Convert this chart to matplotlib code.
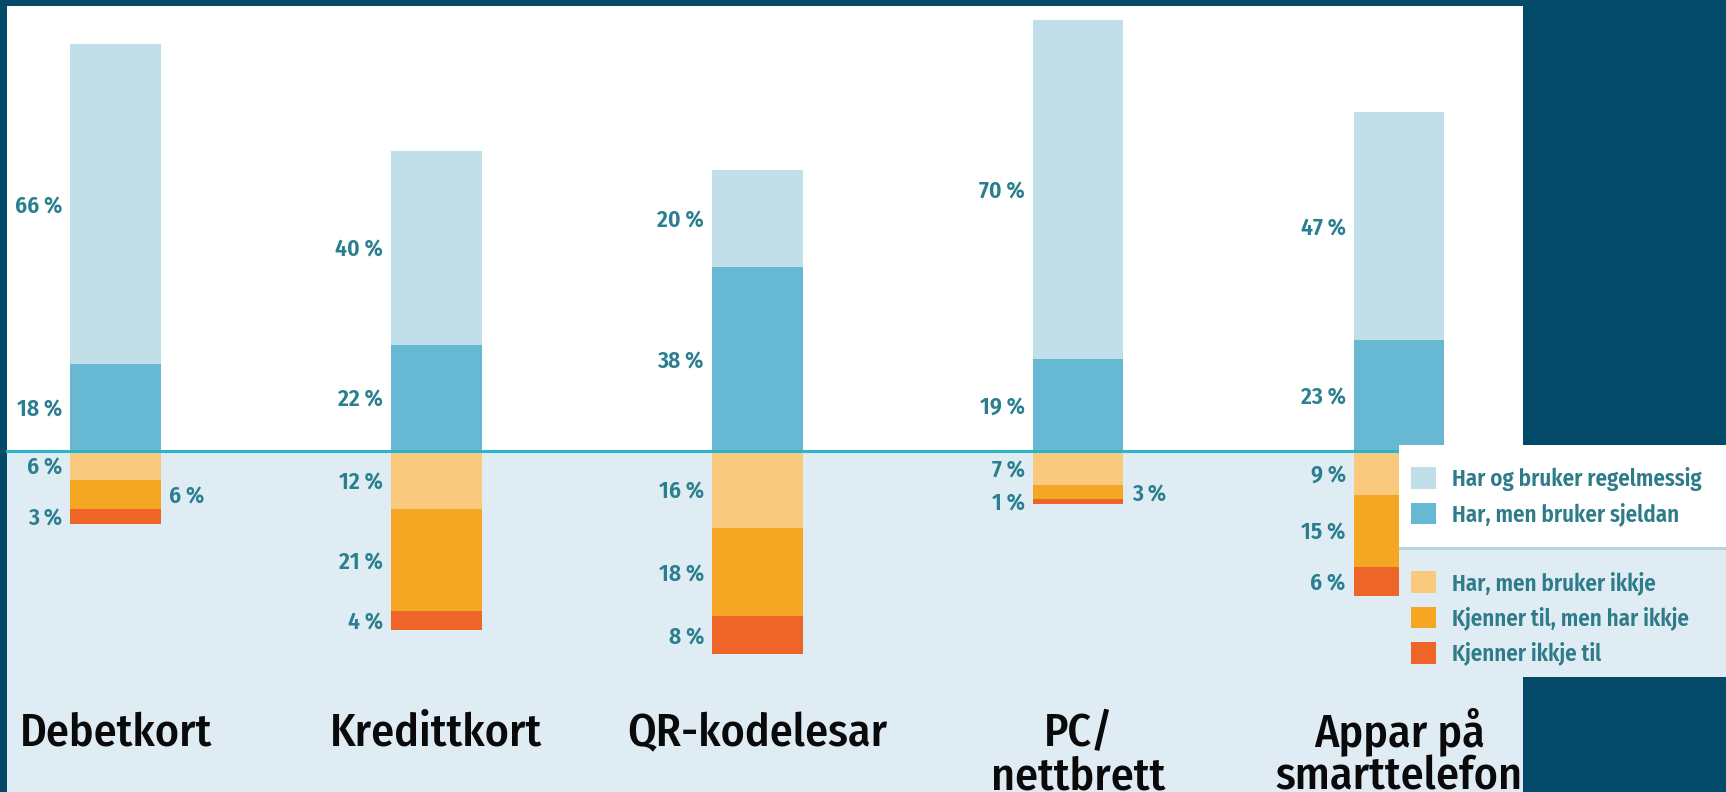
import matplotlib
matplotlib.use("Agg")
import matplotlib.pyplot as plt
from matplotlib.patches import Rectangle, Patch
from matplotlib import font_manager

# ---------------- data ----------------
categories = ["Debetkort", "Kredittkort", "QR-kodelesar", "PC/\nnettbrett", "Appar på\nsmarttelefon"]
har_regelmessig = [66, 40, 20, 70, 47]      # Har og bruker regelmessig
har_sjeldan = [18, 22, 38, 19, 23]          # Har, men bruker sjeldan
har_ikkje = [6, 12, 16, 7, 9]               # Har, men bruker ikkje
kjenner_har_ikkje = [6, 21, 18, 3, 15]      # Kjenner til, men har ikkje
kjenner_ikkje = [3, 4, 8, 1, 6]             # Kjenner ikkje til
series_names = ["Har og bruker regelmessig", "Har, men bruker sjeldan",
                "Har, men bruker ikkje", "Kjenner til, men har ikkje", "Kjenner ikkje til"]
# labels placed on the right side of the bar (category index, series index)
right_side_labels = {(0, 3), (3, 3)}

# ---------------- style ----------------
NAVY = "#034968"
LIGHT_BG = "#dfecf4"
C_REG = "#c1dfe9"
C_SJE = "#67b9d3"
C_IKK = "#f9c97d"
C_KHI = "#f5a623"
C_KI = "#ed6627"
TEAL_TXT = "#2a7f8f"
LEG_TXT = "#2e7b89"
BASE = "#2bb4cb"
colors = [C_REG, C_SJE, C_IKK, C_KHI, C_KI]

avail = {f.name for f in font_manager.fontManager.ttflist}
FONT = "DejaVu Sans"
for cand in ["Fira Sans Condensed", "PT Sans Narrow", "Roboto Condensed",
             "Open Sans Condensed", "Liberation Sans Narrow"]:
    if cand in avail:
        FONT = cand
        break
plt.rcParams["font.family"] = [FONT, "DejaVu Sans"]

W, H = 1726, 792
def fx(px): return px / W
def fy(py): return 1 - py / H

fig = plt.figure(figsize=(W / 100, H / 100), dpi=100, facecolor=NAVY)

# panel backgrounds
fig.patches.append(Rectangle((fx(7), fy(451)), fx(1523) - fx(7), fy(6) - fy(451),
                             transform=fig.transFigure, facecolor="white", edgecolor="none", zorder=-10))
fig.patches.append(Rectangle((fx(7), 0), fx(1523) - fx(7), fy(451),
                             transform=fig.transFigure, facecolor=LIGHT_BG, edgecolor="none", zorder=-10))

ax = fig.add_axes([0, 0, 1, 1])
ax.set_facecolor("none")
px_per_pct = 4.84
base_px = 451
ax.set_ylim(-(H - base_px) / px_per_pct, base_px / px_per_pct)
spacing = 320.9
c0 = 115.6
ax.set_xlim(-c0 / spacing, (W - c0) / spacing)
ax.axis("off")

x = list(range(len(categories)))
w = 90.3 / spacing

pos_series = [har_sjeldan, har_regelmessig]
pos_colors = [C_SJE, C_REG]
pos_idx = [1, 0]
neg_series = [har_ikkje, kjenner_har_ikkje, kjenner_ikkje]
neg_colors = [C_IKK, C_KHI, C_KI]
neg_idx = [2, 3, 4]

segments = []  # (cat, series index, bottom, height)
bottom = [0] * len(x)
for s, col, si in zip(pos_series, pos_colors, pos_idx):
    ax.bar(x, s, bottom=bottom, width=w, color=col, edgecolor="none", zorder=2)
    for i in x:
        segments.append((i, si, bottom[i], s[i]))
    bottom = [b + v for b, v in zip(bottom, s)]

bottom = [0] * len(x)
for s, col, si in zip(neg_series, neg_colors, neg_idx):
    negs = [-v for v in s]
    ax.bar(x, negs, bottom=bottom, width=w, color=col, edgecolor="none", zorder=2)
    for i in x:
        segments.append((i, si, bottom[i], negs[i]))
    bottom = [b + v for b, v in zip(bottom, negs)]

ax.axhline(0, xmin=fx(7), xmax=fx(1523), color=BASE, lw=2.2, zorder=3)

for i, si, b, h in segments:
    yc = b + h / 2
    val = abs(h)
    txt = f"{val}\u2009%"
    if (i, si) in right_side_labels:
        ax.annotate(txt, xy=(i + w / 2, yc), xytext=(6.0, 0), textcoords="offset points",
                    ha="left", va="center_baseline", fontsize=17, fontweight="semibold", color=TEAL_TXT)
    else:
        ax.annotate(txt, xy=(i - w / 2, yc), xytext=(-6.0, 0), textcoords="offset points",
                    ha="right", va="center_baseline", fontsize=17, fontweight="semibold", color=TEAL_TXT)

# category labels
y_line1 = (base_px - 746) / px_per_pct
line_gap = 43 / px_per_pct
for i, cat in enumerate(categories):
    for k, line in enumerate(cat.split("\n")):
        ax.text(i, y_line1 - k * line_gap, line, ha="center", va="baseline",
                fontsize=33, fontweight="medium", color="#0a0a0a")

# legend boxes
fig.patches.append(Rectangle((fx(1399), fy(547)), fx(1726) - fx(1399), fy(445) - fy(547),
                             transform=fig.transFigure, facecolor="white", edgecolor="none", zorder=5))
fig.patches.append(Rectangle((fx(1399), fy(550)), fx(1726) - fx(1399), fy(547) - fy(550),
                             transform=fig.transFigure, facecolor="#b9d3de", edgecolor="none", zorder=5))
fig.patches.append(Rectangle((fx(1399), fy(677)), fx(1726) - fx(1399), fy(550) - fy(677),
                             transform=fig.transFigure, facecolor=LIGHT_BG, edgecolor="none", zorder=5))

handles = [Patch(facecolor=c, edgecolor="none") for c in colors]
leg_fs = 16.5
leg_kw = dict(loc="upper left", frameon=False, borderpad=0, borderaxespad=0,
              handlelength=1.07, handleheight=1.07, handletextpad=0.72, labelspacing=0.5,
              prop={"family": [FONT, "DejaVu Sans"], "size": leg_fs, "weight": "semibold"},
              labelcolor=LEG_TXT)
leg1 = fig.legend(handles[:2], series_names[:2], bbox_to_anchor=(fx(1411), fy(467)), **leg_kw)
leg1.set_zorder(7)
leg2 = fig.legend(handles[2:], series_names[2:], bbox_to_anchor=(fx(1411), fy(571)), **leg_kw)
leg2.set_zorder(7)

fig.savefig("out.png", dpi=100, facecolor=NAVY)
